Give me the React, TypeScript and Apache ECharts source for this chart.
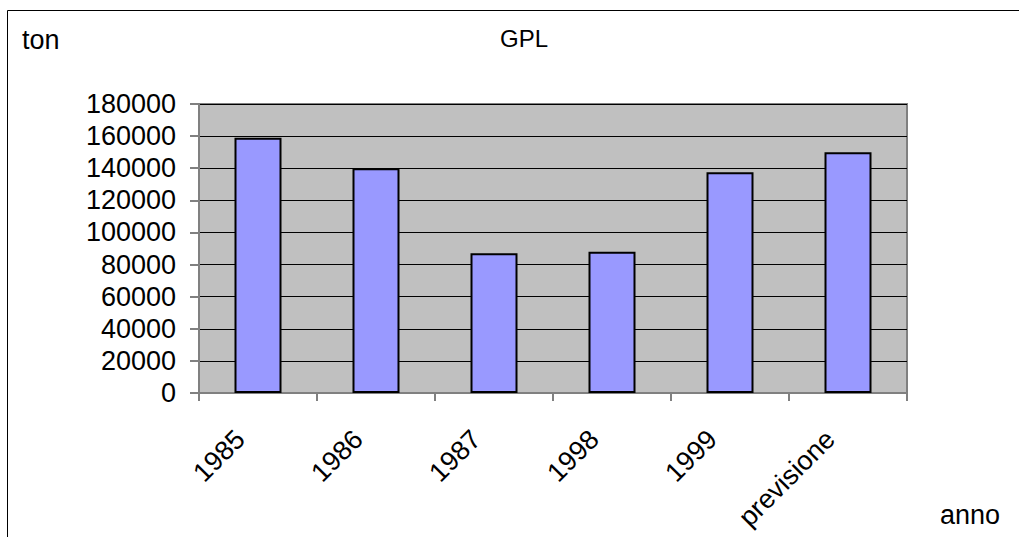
import React, { useEffect, useRef } from "react";
import * as echarts from "echarts";

const categories = ["1985", "1986", "1987", "1998", "1999", "previsione"];
const values = [159000, 140000, 87000, 88000, 137500, 150000];
const yTicksMax = 180000;
const yInterval = 20000;
const titleText = "GPL";
const yUnit = "ton";
const xUnit = "anno";

const FONT = "'Liberation Sans', Arial, sans-serif";

export default function App() {
  const ref = useRef<HTMLDivElement>(null);
  useEffect(() => {
    if (!ref.current) return;
    const chart = echarts.init(ref.current, null, { renderer: "svg" });
    chart.setOption({
      animation: false,
      backgroundColor: "#ffffff",
      textStyle: { fontFamily: FONT },
      grid: {
        left: 199,
        top: 104,
        right: 112,
        bottom: 144,
        show: true,
        backgroundColor: "#c0c0c0",
        borderColor: "#808080",
        borderWidth: 2,
      },
      xAxis: {
        type: "category",
        data: categories,
        boundaryGap: true,
        axisLine: { show: true, lineStyle: { color: "#808080", width: 2 } },
        axisTick: { show: true, inside: false, length: 8, alignWithLabel: false, lineStyle: { color: "#808080", width: 2 } },
        axisLabel: {
          rotate: 45,
          margin: 24,
          interval: 0,
          color: "#000",
          fontSize: 27,
          fontFamily: FONT,
          align: "right",
          verticalAlign: "middle",
          padding: [0, 25, 0, 0],
        },
        splitLine: { show: false },
      },
      yAxis: {
        type: "value",
        min: 0,
        max: yTicksMax,
        interval: yInterval,
        axisLine: { show: true, lineStyle: { color: "#808080", width: 2 } },
        axisTick: { show: true, inside: false, length: 9, lineStyle: { color: "#808080", width: 2 } },
        axisLabel: {
          margin: 23,
          color: "#000",
          fontSize: 27,
          fontFamily: FONT,
          formatter: (v: number) => String(v),
        },
        splitLine: { show: true, lineStyle: { color: "#000", width: 1 } },
      },
      series: [
        {
          type: "bar",
          data: values,
          barWidth: 47,
          itemStyle: { color: "#9999ff", borderColor: "#000", borderWidth: 2 },
        },
      ],
      graphic: [
        {
          type: "rect",
          shape: { x: 7.5, y: 10.5, width: 1100, height: 600 },
          style: { fill: "none", stroke: "#000", lineWidth: 1 },
          silent: true,
        },
        {
          type: "text",
          x: 524,
          y: 38,
          style: { text: titleText, font: `24px ${FONT}`, fill: "#000", textAlign: "center", textVerticalAlign: "middle" },
        },
        {
          type: "text",
          x: 22,
          y: 40,
          style: { text: yUnit, font: `27px ${FONT}`, fill: "#000", textAlign: "left", textVerticalAlign: "middle" },
        },
        {
          type: "text",
          x: 940,
          y: 515,
          style: { text: xUnit, font: `27px ${FONT}`, fill: "#000", textAlign: "left", textVerticalAlign: "middle" },
        },
      ],
    });
    return () => chart.dispose();
  }, []);
  return (
    <div
      ref={ref}
      style={{ position: "absolute", left: 0, top: 0, width: 1019, height: 537 }}
    />
  );
}
